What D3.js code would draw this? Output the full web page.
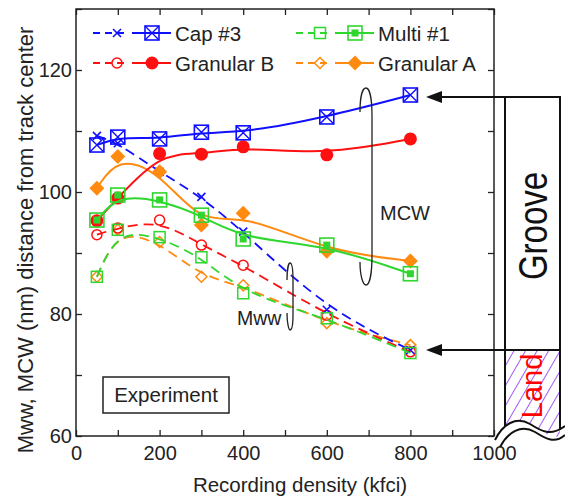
<!DOCTYPE html>
<html lang="en">
<head>
<meta charset="utf-8">
<title>Mww / MCW vs recording density</title>
<script src="https://cdnjs.cloudflare.com/ajax/libs/d3/7.8.5/d3.min.js"></script>
<style>
  body { margin: 0; background: #fff; }
  svg { display: block; font-family: "Liberation Sans", Arial, sans-serif; }
  .axis text { font-size: 20px; fill: #222; }
  .axis line { stroke: #222; stroke-width: 1.3px; }
  .axis path { display: none; }
</style>
</head>
<body>
<script>
// recording density (kfci)
var density = [50, 100, 200, 300, 400, 600, 800];

// solid = MCW, dashed = Mww (nm)
var capSolid   = [107.7, 109.0, 108.7, 109.8, 109.7, 112.3, 115.9];
var capDash    = [109.2, 108.0, 103.3, 99.2, 93.5, 80.7, 74.1];
var granBSolid = [95.3, 99.0, 106.3, 106.2, 107.4, 106.1, 108.7];
var granBDash  = [93.0, 94.1, 95.4, 91.3, 88.0, 79.8, 73.8];
var multiSolid = [95.4, 99.5, 98.7, 96.2, 92.3, 91.3, 86.6];
var multiDash  = [86.1, 93.8, 92.6, 89.3, 83.4, 79.3, 73.6];
var granASolid = [100.6, 105.8, 103.3, 94.6, 96.5, 90.3, 88.7];
var granADash  = [86.1, 93.8, 91.8, 86.1, 84.7, 78.5, 74.9];

var xTicks = d3.range(0, 1001, 100);
var yTicks = d3.range(60, 131, 10);

var w = 565, h = 497;
var blue = "#1010ff", red = "#ff1010", green = "#2fd62f", orange = "#ff8a10";

var series = [
  { name: "Granular A", color: orange, solid: granASolid, dash: granADash, big: "diamondFill", small: "diamond" },
  { name: "Granular B", color: red, solid: granBSolid, dash: granBDash, big: "circleFill", small: "circle" },
  { name: "Cap #3", color: blue, solid: capSolid, dash: capDash, big: "boxX", small: "x" },
  { name: "Multi #1", color: green, solid: multiSolid, dash: multiDash, big: "boxDot", small: "box" }
];

var svg = d3.select("body").append("svg").attr("width", w).attr("height", h);

var x = d3.scaleLinear().domain([0, 1000]).range([76, 494]);
var y = d3.scaleLinear().domain([60, 130]).range([436, 9]);

// axes, ticks inward on all sides
svg.append("g").attr("class", "axis").attr("transform", "translate(0,436)")
  .call(d3.axisBottom(x).tickValues(xTicks).tickSize(-6).tickPadding(10)
    .tickFormat(function(d) { return d % 200 === 0 ? d : ""; }));
svg.append("g").attr("class", "axis").attr("transform", "translate(0,9)")
  .call(d3.axisTop(x).tickValues(xTicks).tickSize(-6).tickFormat(""));
svg.append("g").attr("class", "axis").attr("transform", "translate(76,0)")
  .call(d3.axisLeft(y).tickValues(yTicks).tickSize(-6).tickPadding(4)
    .tickFormat(function(d) { return d % 20 === 0 ? d : ""; }));
svg.append("g").attr("class", "axis").attr("transform", "translate(494,0)")
  .call(d3.axisRight(y).tickValues(yTicks).tickSize(-6).tickFormat(""));

svg.append("rect").attr("x", 76).attr("y", 9).attr("width", 418).attr("height", 427)
  .attr("fill", "none").attr("stroke", "#222").attr("stroke-width", 1.5);

// axis titles
svg.append("text").attr("x", 300).attr("y", 492).attr("text-anchor", "middle")
  .attr("font-size", "20.5px").attr("fill", "#222").text("Recording density (kfci)");
svg.append("text").attr("transform", "translate(33,240) rotate(-90)").attr("text-anchor", "middle")
  .attr("font-size", "22px").attr("fill", "#222").text("Mww, MCW (nm) distance from track center");

function marker(g, type, cx, cy, color) {
  var s;
  if (type === "boxX") {
    s = 7;
    g.append("rect").attr("x", cx - s).attr("y", cy - s).attr("width", 2 * s).attr("height", 2 * s)
      .attr("fill", "none").attr("stroke", color).attr("stroke-width", 1.6);
    g.append("path").attr("d", "M" + (cx - s) + "," + (cy - s) + "L" + (cx + s) + "," + (cy + s) +
      "M" + (cx + s) + "," + (cy - s) + "L" + (cx - s) + "," + (cy + s))
      .attr("stroke", color).attr("stroke-width", 1.4);
  } else if (type === "x") {
    s = 4;
    g.append("path").attr("d", "M" + (cx - s) + "," + (cy - s) + "L" + (cx + s) + "," + (cy + s) +
      "M" + (cx + s) + "," + (cy - s) + "L" + (cx - s) + "," + (cy + s))
      .attr("stroke", color).attr("stroke-width", 1.6);
  } else if (type === "circleFill") {
    g.append("circle").attr("cx", cx).attr("cy", cy).attr("r", 6.5).attr("fill", color);
  } else if (type === "circle") {
    g.append("circle").attr("cx", cx).attr("cy", cy).attr("r", 5).attr("fill", "none")
      .attr("stroke", color).attr("stroke-width", 1.5);
  } else if (type === "boxDot") {
    s = 7;
    g.append("rect").attr("x", cx - s).attr("y", cy - s).attr("width", 2 * s).attr("height", 2 * s)
      .attr("fill", "none").attr("stroke", color).attr("stroke-width", 1.6);
    g.append("rect").attr("x", cx - 3.5).attr("y", cy - 3.5).attr("width", 7).attr("height", 7)
      .attr("fill", color);
  } else if (type === "box") {
    s = 5.5;
    g.append("rect").attr("x", cx - s).attr("y", cy - s).attr("width", 2 * s).attr("height", 2 * s)
      .attr("fill", "none").attr("stroke", color).attr("stroke-width", 1.5);
  } else if (type === "diamondFill") {
    s = 7.5;
    g.append("path").attr("d", "M" + cx + "," + (cy - s) + "L" + (cx + s) + "," + cy + "L" + cx + "," +
      (cy + s) + "L" + (cx - s) + "," + cy + "Z").attr("fill", color);
  } else if (type === "diamond") {
    s = 5.5;
    g.append("path").attr("d", "M" + cx + "," + (cy - s) + "L" + (cx + s) + "," + cy + "L" + cx + "," +
      (cy + s) + "L" + (cx - s) + "," + cy + "Z").attr("fill", "none")
      .attr("stroke", color).attr("stroke-width", 1.5);
  }
}

var line = d3.line()
  .x(function(d) { return x(d[0]); })
  .y(function(d) { return y(d[1]); })
  .curve(d3.curveBasis);

// dashed Mww curves first, then solid MCW curves
series.forEach(function(s) {
  var pts = density.map(function(d, i) { return [d, s.dash[i]]; });
  var g = svg.append("g");
  g.append("path").attr("d", line(pts)).attr("fill", "none").attr("stroke", s.color)
    .attr("stroke-width", 1.8).attr("stroke-dasharray", "10,6");
  pts.forEach(function(p) { marker(g, s.small, x(p[0]), y(p[1]), s.color); });
});
series.forEach(function(s) {
  var pts = density.map(function(d, i) { return [d, s.solid[i]]; });
  var g = svg.append("g");
  g.append("path").attr("d", line(pts)).attr("fill", "none").attr("stroke", s.color)
    .attr("stroke-width", 2);
  pts.forEach(function(p) { marker(g, s.big, x(p[0]), y(p[1]), s.color); });
});

// legend
var legendPos = [
  { s: series[2], x0: 93, y0: 33 },
  { s: series[3], x0: 296, y0: 33 },
  { s: series[1], x0: 93, y0: 63 },
  { s: series[0], x0: 296, y0: 63 }
];
legendPos.forEach(function(l) {
  var g = svg.append("g");
  g.append("line").attr("x1", l.x0).attr("x2", l.x0 + 31).attr("y1", l.y0).attr("y2", l.y0)
    .attr("stroke", l.s.color).attr("stroke-width", 1.8).attr("stroke-dasharray", "7,5");
  marker(g, l.s.small, l.x0 + 24, l.y0, l.s.color);
  g.append("line").attr("x1", l.x0 + 39).attr("x2", l.x0 + 78).attr("y1", l.y0).attr("y2", l.y0)
    .attr("stroke", l.s.color).attr("stroke-width", 2);
  marker(g, l.s.big, l.x0 + 59, l.y0, l.s.color);
  g.append("text").attr("x", l.x0 + 82).attr("y", l.y0 + 7.5).attr("font-size", "20.5px")
    .attr("fill", "#222").text(l.s.name);
});

// group brackets
svg.append("path")
  .attr("d", "M360,112 C360,95 363,88 366,88 C369,88 372,96 372,116 L372,255 C372,276 369,285 366,285 C363,285 360,276 360,262")
  .attr("fill", "none").attr("stroke", "#222").attr("stroke-width", 1.3);
svg.append("text").attr("x", 380).attr("y", 220).attr("font-size", "20px").attr("fill", "#222").text("MCW");
svg.append("path")
  .attr("d", "M287,280 C287,268 289,263 290,263 C292,263 293,270 293,280 L293,315 C293,326 292,330 290,330 C289,330 287,324 287,313")
  .attr("fill", "none").attr("stroke", "#222").attr("stroke-width", 1.3);
svg.append("text").attr("x", 237).attr("y", 325).attr("font-size", "19.5px").attr("fill", "#222").text("Mww");

// Experiment box
svg.append("rect").attr("x", 103).attr("y", 377).attr("width", 126).attr("height", 36)
  .attr("fill", "#fff").attr("stroke", "#222").attr("stroke-width", 1.5);
svg.append("text").attr("x", 166).attr("y", 402).attr("text-anchor", "middle")
  .attr("font-size", "20.5px").attr("fill", "#222").text("Experiment");

// track cross-section on the right
var defs = svg.append("defs");
defs.append("pattern").attr("id", "hatch").attr("patternUnits", "userSpaceOnUse")
  .attr("width", 10).attr("height", 10).attr("patternTransform", "rotate(30)")
  .append("line").attr("x1", 0).attr("y1", 0).attr("x2", 0).attr("y2", 10)
  .attr("stroke", "#8a2ff5").attr("stroke-width", 1.6);
var upperWave = "M495,440 C503,424 516,416 530,424 C541,431 550,437 565,426";
var lowerWave = "M500,447 C508,432 521,424 535,432 C546,439 555,444 565,435";
defs.append("clipPath").attr("id", "landClip").append("path")
  .attr("d", "M505,350 L560,350 L560,436 C553,439 548,435 541,431 C533,426 528,422 520,421 C512,420 507,424 505,426 Z");

svg.append("rect").attr("x", 505).attr("y", 350).attr("width", 55).attr("height", 95)
  .attr("fill", "url(#hatch)").attr("clip-path", "url(#landClip)");

var k = { stroke: "#111", "stroke-width": 2, fill: "none" };
function blk(sel) { Object.keys(k).forEach(function(a) { sel.attr(a, k[a]); }); return sel; }
blk(svg.append("path").attr("d", "M441,97 L560,97 L560,430"));
blk(svg.append("path").attr("d", "M505,97 L505,427"));
blk(svg.append("path").attr("d", "M441,350 L560,350"));
blk(svg.append("path").attr("d", upperWave));
blk(svg.append("path").attr("d", lowerWave));
[97, 350].forEach(function(yy) {
  svg.append("path").attr("d", "M426," + yy + " L442," + (yy - 6) + " L442," + (yy + 6) + " Z")
    .attr("fill", "#111");
});

svg.append("text").attr("transform", "translate(547,226) rotate(-90) scale(1,1.25)").attr("text-anchor", "middle")
  .attr("font-size", "33px").attr("fill", "#111").text("Groove");
svg.append("text").attr("transform", "translate(542,386) rotate(-90)").attr("text-anchor", "middle")
  .attr("font-size", "29px").attr("fill", "#ff0000").text("Land");
</script>
</body>
</html>
